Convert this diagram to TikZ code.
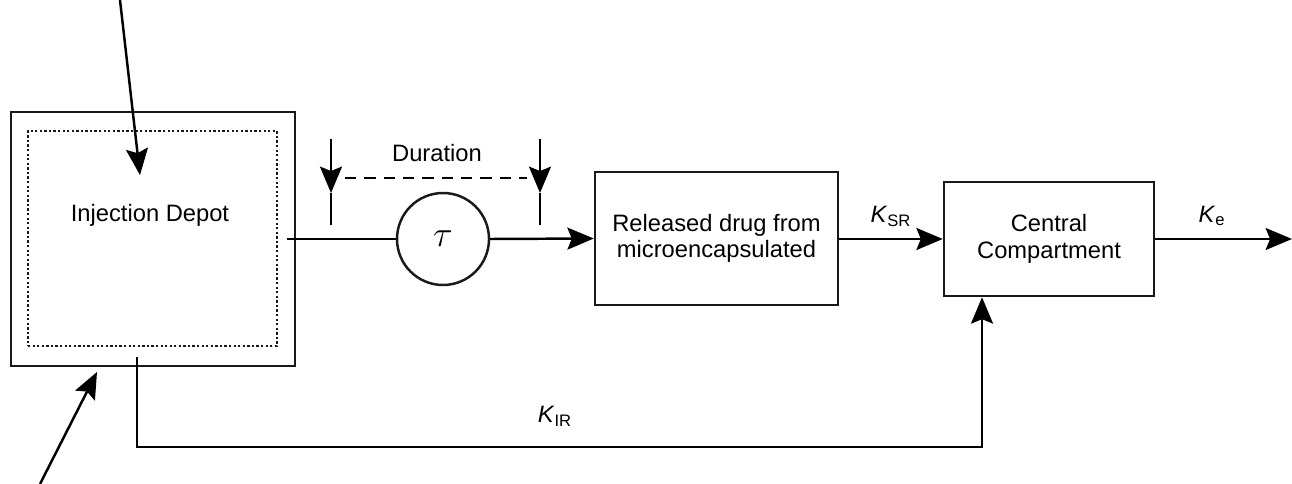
\documentclass[tikz,border=0pt]{standalone}
\usepackage{fontspec}
\setmainfont{Liberation Sans}
\usetikzlibrary{arrows.meta}

\begin{document}
\begin{tikzpicture}[
      every node/.style={font=\fontsize{13.5}{15}\selectfont},
      block/.style={rectangle, draw=black!90, line width=1.4pt, minimum width=#1, align=center},
      depotbox/.style={block=5.68cm, minimum height=5.08cm},
      depotzone/.style={rectangle, draw=black!90, line width=1.3pt, dash pattern=on 1.3pt off 1.3pt, minimum width=4.98cm, minimum height=4.30cm},
      delay/.style={circle, draw=black!90, line width=1.4pt, minimum size=1.84cm, inner sep=0pt, font=\fontsize{21}{21}\selectfont},
      flow/.style={line width=1.4pt, ->, >={Stealth[length=15pt, width=12.5pt, inset=2.5pt]}},
      wire/.style={line width=1.4pt},
      span/.style={line width=1.4pt, dash pattern=on 6.5pt off 4.5pt},
      rate/.style={font=\fontsize{13.5}{15}\selectfont}
  ]
    \useasboundingbox (0,0) rectangle (25.84,-9.68);

    \node[depotbox] (depot) at (3.06,-4.78) {};
    \node[depotzone] (depotin) at (3.05,-4.77) {};
    \node (depotlabel) at (3.0,-4.3) {Injection Depot};
    \node[delay] (tau) at (8.86,-4.78) {$\tau$};
    \node[block=4.86cm, minimum height=2.66cm] (release) at (14.33,-4.77) {Released drug from\\microencapsulated};
    \node[block=4.20cm, minimum height=2.28cm] (central) at (20.98,-4.78) {Central\\Compartment};

    \coordinate (dosein) at (2.4,0);
    \coordinate (dosetip) at (2.8,-3.5);
    \coordinate (sidein) at (0.8,-9.68);
    \coordinate (sidetip) at (1.94,-7.44);
    \coordinate (depotout) at (5.74,-4.78);
    \coordinate (depotdown) at (2.74,-7.14);
    \coordinate (ircorner) at (19.64,-8.94);
    \coordinate (exit) at (25.84,-4.78);

    % duration markers
    \coordinate (startop) at (6.62,-2.78);
    \coordinate (startip) at (6.62,-3.86);
    \coordinate (startend) at (6.62,-4.50);
    \coordinate (stoptop) at (10.80,-2.78);
    \coordinate (stoptip) at (10.80,-3.86);
    \coordinate (stopend) at (10.80,-4.50);
    \coordinate (spanl) at (6.90,-3.56);
    \coordinate (spanr) at (10.54,-3.56);

    \draw[flow] (dosein) -- (dosetip);
    \draw[flow] (sidein) -- (sidetip);

    \draw[flow] (startop) -- (startip);
    \draw[wire] (startip) -- (startend);
    \draw[flow] (stoptop) -- (stoptip);
    \draw[wire] (stoptip) -- (stopend);
    \draw[span] (spanl) -- (spanr);
    \node (duration) at (8.74,-3.06) {Duration};

    \draw[wire] (depotout) -- (tau.west);
    \draw[flow] (tau.east) -- (release.west);
    \draw[flow] (release.east |- central.west) -- node[rate, above=3pt] {\textit{K}\textsubscript{SR}} (central.west);
    \draw[flow] (central.east) -- (exit);
    \node[rate] (ke) at (24.24,-4.32) {\textit{K}\textsubscript{e}};
    \draw[flow] (depotdown) |- (ircorner) -- (ircorner |- central.south);
    \node[rate] (kir) at (11.1,-8.32) {\textit{K}\textsubscript{IR}};
  \end{tikzpicture}
\end{document}
